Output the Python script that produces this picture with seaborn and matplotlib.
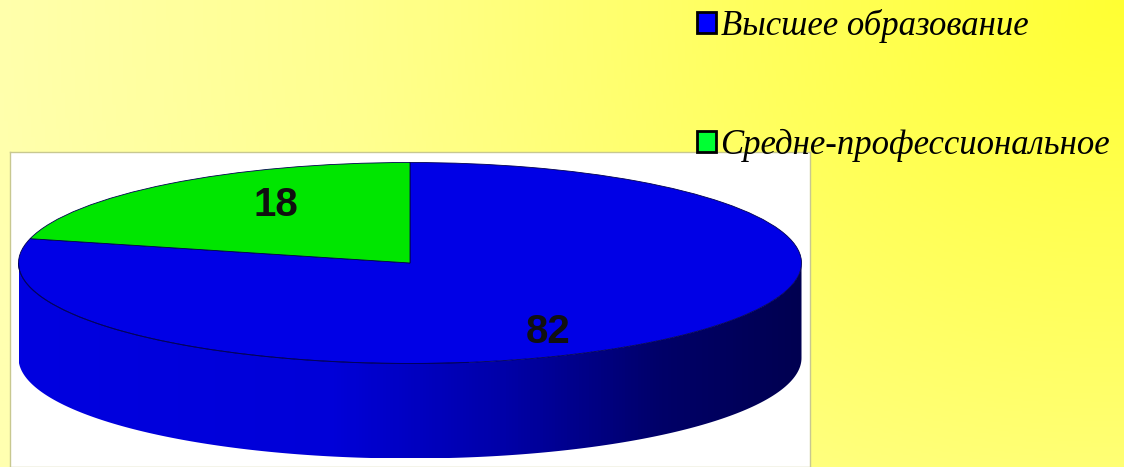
import numpy as np
import seaborn as sns
import matplotlib.pyplot as plt
from matplotlib.colors import LinearSegmentedColormap
from matplotlib.patches import Patch, Polygon

categories = ["Высшее образование", "Средне-профессиональное"]
values = [82, 18]
colors = ["#0000e6", "#00e600"]
legend_colors = ["#0000ff", "#00ff33"]

sns.set_theme(style="white")
plt.rcParams["font.family"] = ["Liberation Sans", "DejaVu Sans"]

W, H = 1124, 467
fig = plt.figure(figsize=(W / 100, H / 100), dpi=100)

# yellow slide background, strongest in the upper right corner
bg = fig.add_axes([0, 0, 1, 1], zorder=0)
xx, yy = np.meshgrid(np.linspace(0, 1, 300), np.linspace(0, 1, 200))
fade = np.clip(np.hypot(1 - xx, yy * 0.5) / 1.05, 0, 1)
bg_cmap = LinearSegmentedColormap.from_list("bg", ["#ffff33", "#ffff60", "#ffff90", "#ffffb0"])
bg.imshow(fade, cmap=bg_cmap, vmin=0, vmax=1, aspect="auto", extent=(0, W, H, 0))
bg.axis("off")

# white chart panel, in pixels: x 10-810, y 152-467
px0, px1, py0, py1 = 10, 810, 152, 467
cx, cy, rx, ry = 410, 263, 391.5, 100.5
depth = 95 / ry

ax = fig.add_axes([px0 / W, 1 - py1 / H, (px1 - px0) / W, (py1 - py0) / H], zorder=1)

# the slanted view makes the wedge look wider than its real share
tilt = 1.887
theta = np.radians(np.array(values) / sum(values) * 360)
small = np.arctan2(tilt * np.sin(theta[1]), np.cos(theta[1]))
shown = [2 * np.pi - small, small]

wedges, _ = ax.pie(shown, colors=colors, startangle=90, counterclock=False, radius=1,
                   wedgeprops={"edgecolor": "#000050", "linewidth": 0.6})

# side of the disc
t = np.linspace(np.pi, 2 * np.pi, 200)
rim_top = np.column_stack([np.cos(t), np.sin(t)])
rim_low = rim_top[::-1] - [0, depth]
side = Polygon(np.vstack([rim_top, rim_low]), closed=True, transform=ax.transData)
side_cmap = LinearSegmentedColormap.from_list(
    "side", [(0, "#0000e0"), (0.4, "#0000d8"), (0.62, "#0000a8"), (0.82, "#000068"), (1, "#000050")])
im = ax.imshow(np.linspace(0, 1, 256)[None, :], cmap=side_cmap, aspect="auto",
               extent=(-1, 1, -1 - depth, 1), zorder=0.5)
im.set_clip_path(side)
ax.plot(rim_top[:, 0][:110], rim_top[:, 1][:110], color="#000060", lw=0.7, zorder=2)

ax.set_aspect("auto")
ax.set_xlim((px0 - cx) / rx, (px1 - cx) / rx)
ax.set_ylim((cy - py1) / ry, (cy - py0) / ry)
ax.set_xticks([])
ax.set_yticks([])
ax.set_frame_on(True)
ax.set_facecolor("white")
for s in ax.spines.values():
    s.set_visible(True)
    s.set_color("#c8c890")
    s.set_linewidth(1)

# value labels
ax.text((548 - cx) / rx, (cy - 332) / ry, str(values[0]), fontsize=29, fontweight="bold",
        color="#101010", ha="center", va="center", zorder=5)
ax.text((276 - cx) / rx, (cy - 205) / ry, str(values[1]), fontsize=29, fontweight="bold",
        color="#101010", ha="center", va="center", zorder=5)

handles = [Patch(facecolor=c, edgecolor="black", linewidth=2) for c in legend_colors]
fig.legend(handles, categories, loc="upper left", bbox_to_anchor=(690 / W, 1 - 2 / H),
           frameon=False, borderaxespad=0, borderpad=0.2, labelcolor="black",
           prop={"family": "Liberation Serif", "style": "italic", "size": 25},
           handlelength=0.56, handleheight=0.56, handletextpad=0.12, labelspacing=2.48)

fig.savefig("out.png", dpi=100)
